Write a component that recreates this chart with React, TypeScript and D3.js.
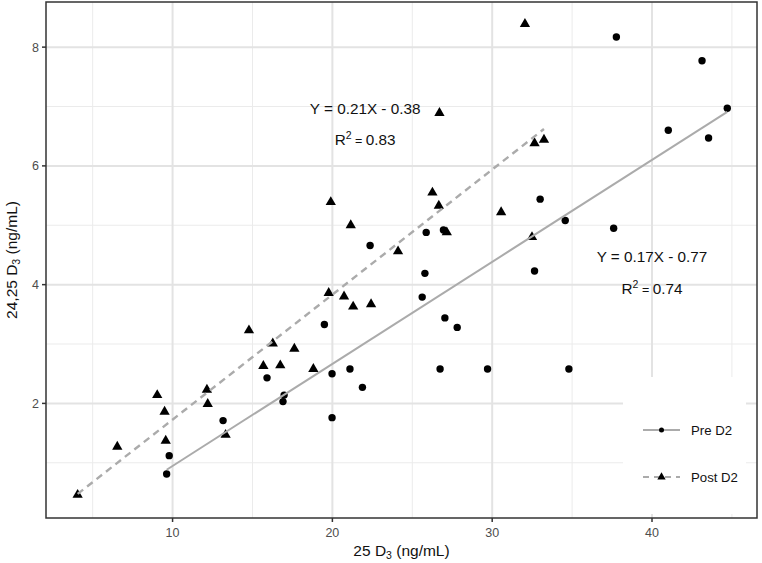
import React from "react";
import * as d3 from "d3";

// Pre D2 (circles): 25 D3 vs 24,25 D3, ng/mL
const preX = [9.63, 9.79, 13.16, 15.91, 16.98, 16.91, 19.98, 19.98, 21.1, 21.88, 19.5, 22.36, 25.79, 25.62, 27.04, 27.81, 26.74, 29.71, 34.8, 32.65, 25.87, 26.95, 33.0, 34.57, 37.6, 41.02, 43.54, 44.71, 43.13, 37.77];
const preY = [0.81, 1.12, 1.71, 2.43, 2.14, 2.03, 2.5, 1.76, 2.58, 2.27, 3.33, 4.66, 4.19, 3.79, 3.44, 3.28, 2.58, 2.58, 2.58, 4.23, 4.88, 4.92, 5.44, 5.08, 4.95, 6.6, 6.47, 6.97, 7.77, 8.17];

// Post D2 (triangles)
const postX = [4.06, 6.54, 9.04, 9.5, 9.57, 12.15, 12.2, 13.32, 15.68, 16.74, 14.78, 16.27, 17.62, 18.81, 19.77, 20.73, 21.3, 22.42, 19.9, 21.15, 24.11, 26.26, 26.66, 27.16, 30.56, 32.49, 32.65, 33.24, 26.7, 32.05];
const postY = [0.46, 1.27, 2.14, 1.86, 1.37, 2.23, 1.99, 1.47, 2.63, 2.64, 3.23, 3.01, 2.92, 2.58, 3.86, 3.8, 3.63, 3.67, 5.39, 5.0, 4.56, 5.55, 5.33, 4.88, 5.22, 4.8, 6.38, 6.44, 6.89, 8.39];

const xMajor = [10, 20, 30, 40];
const xMinor = [5, 15, 25, 35, 45];
const yMajor = [2, 4, 6, 8];
const yMinor = [1, 3, 5, 7];

const seriesNames = ["Pre D2", "Post D2"];
const eqText = ["Y = 0.17X - 0.77", "Y = 0.21X - 0.38"];
const r2Text = ["0.74", "0.83"];

const W = 762;
const H = 563;
const LEFT = 46, RIGHT = 757, TOP = 2, BOTTOM = 518;
const FONT = "'Liberation Sans', Arial, Helvetica, sans-serif";
const LINE_COLOR = "#ABABAB";

const x = d3.scaleLinear().domain([2.08, 46.57]).range([LEFT, RIGHT]);
const y = d3.scaleLinear().domain([0.07, 8.76]).range([BOTTOM, TOP]);

// least squares fit like geom_smooth(method = "lm")
function fit(xs: number[], ys: number[]) {
  const mx = d3.mean(xs)!;
  const my = d3.mean(ys)!;
  let sxy = 0, sxx = 0;
  xs.forEach((v, i) => {
    sxy += (v - mx) * (ys[i] - my);
    sxx += (v - mx) * (v - mx);
  });
  const b = sxy / sxx;
  const a = my - b * mx;
  const [x0, x1] = d3.extent(xs) as [number, number];
  return [[x0, a + b * x0], [x1, a + b * x1]] as [number, number][];
}

const line = d3.line<[number, number]>().x(d => x(d[0])).y(d => y(d[1]));
const tri = d3.symbol().type(d3.symbolTriangle).size(46)()!;
const triSmall = d3.symbol().type(d3.symbolTriangle).size(30)()!;

const App = () => {
  const preFit = fit(preX, preY);
  const postFit = fit(postX, postY);

  // annotation anchors in data units
  const ann = [
    { x: 40.0, y1: 4.47, y2: 3.93 },
    { x: 22.05, y1: 6.97, y2: 6.44 },
  ];

  return (
    <svg width={W} height={H} style={{ position: "absolute", left: 0, top: 0, background: "#fff" }} fontFamily={FONT}>
      {/* grid */}
      {xMinor.map(v => (
        <line key={"xm" + v} x1={x(v)} x2={x(v)} y1={TOP} y2={BOTTOM} stroke="#EBEBEB" strokeWidth={1} />
      ))}
      {yMinor.map(v => (
        <line key={"ym" + v} x1={LEFT} x2={RIGHT} y1={y(v)} y2={y(v)} stroke="#EBEBEB" strokeWidth={1} />
      ))}
      {xMajor.map(v => (
        <line key={"xM" + v} x1={x(v)} x2={x(v)} y1={TOP} y2={BOTTOM} stroke="#E3E3E3" strokeWidth={2} />
      ))}
      {yMajor.map(v => (
        <line key={"yM" + v} x1={LEFT} x2={RIGHT} y1={y(v)} y2={y(v)} stroke="#E3E3E3" strokeWidth={2} />
      ))}

      {/* points */}
      {preX.map((v, i) => (
        <circle key={"p" + i} cx={x(v)} cy={y(preY[i])} r={3.7} fill="#000" />
      ))}
      {postX.map((v, i) => (
        <path key={"t" + i} d={tri} transform={`translate(${x(v)},${y(postY[i])})`} fill="#000" />
      ))}

      {/* fitted lines */}
      <path d={line(preFit)!} stroke={LINE_COLOR} strokeWidth={2} fill="none" />
      <path d={line(postFit)!} stroke={LINE_COLOR} strokeWidth={2.4} strokeDasharray="7,5" fill="none" />

      {/* annotations */}
      {ann.map((a, i) => (
        <g key={"a" + i} fontSize={15.3} fill="#111" textAnchor="middle">
          <text x={x(a.x)} y={y(a.y1)} dy="0.35em">{eqText[i]}</text>
          <text x={x(a.x)} y={y(a.y2)} dy="0.35em">
            R<tspan fontSize={10.5} dy="-6">2</tspan><tspan dy="6" fontSize={12.5}> = </tspan>{r2Text[i]}
          </text>
        </g>
      ))}

      {/* legend */}
      <rect x={623} y={377} width={123} height={137} fill="#fff" />
      {seriesNames.map((s, i) => {
        const ly = 430 + i * 47;
        return (
          <g key={s}>
            <line x1={643} x2={680} y1={ly} y2={ly} stroke={LINE_COLOR} strokeWidth={2}
              strokeDasharray={i === 1 ? "6,5" : undefined} />
            {i === 0
              ? <circle cx={661.5} cy={ly} r={2.5} fill="#000" />
              : <path d={triSmall} transform={`translate(661.5,${ly})`} fill="#000" />}
            <text x={691} y={ly} dy="0.35em" fontSize={13.2} fill="#111">{s}</text>
          </g>
        );
      })}

      {/* panel border */}
      <rect x={LEFT} y={TOP} width={RIGHT - LEFT} height={BOTTOM - TOP} fill="none" stroke="#333" strokeWidth={1.5} />

      {/* axes ticks */}
      {xMajor.map(v => (
        <g key={"xt" + v}>
          <line x1={x(v)} x2={x(v)} y1={BOTTOM} y2={BOTTOM + 4} stroke="#333" strokeWidth={1.5} />
          <text x={x(v)} y={BOTTOM + 15} dy="0.35em" textAnchor="middle" fontSize={12.5} fill="#4D4D4D">{v}</text>
        </g>
      ))}
      {yMajor.map(v => (
        <g key={"yt" + v}>
          <line x1={LEFT - 4} x2={LEFT} y1={y(v)} y2={y(v)} stroke="#333" strokeWidth={1.5} />
          <text x={LEFT - 7} y={y(v)} dy="0.35em" textAnchor="end" fontSize={12.5} fill="#4D4D4D">{v}</text>
        </g>
      ))}

      {/* axis titles */}
      <text x={(LEFT + RIGHT) / 2} y={556} textAnchor="middle" fontSize={15.5} fill="#111">
        25 D<tspan fontSize={10.5} dy="3">3</tspan><tspan dy="-3"> (ng/mL)</tspan>
      </text>
      <text transform={`translate(${17},${(TOP + BOTTOM) / 2}) rotate(-90)`} textAnchor="middle" fontSize={15.5} fill="#111">
        24,25 D<tspan fontSize={10.5} dy="3">3</tspan><tspan dy="-3"> (ng/mL)</tspan>
      </text>
    </svg>
  );
};

export default App;
